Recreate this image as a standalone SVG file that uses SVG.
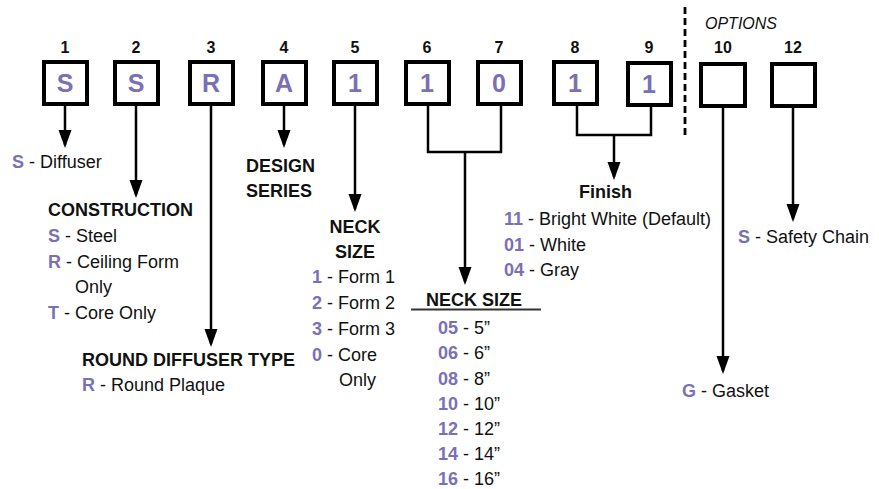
<svg xmlns="http://www.w3.org/2000/svg" width="879" height="489" viewBox="0 0 879 489">
<defs>
<marker id="ah" markerUnits="userSpaceOnUse" markerWidth="18" markerHeight="14" viewBox="0 0 18 14" refX="15" refY="7" orient="auto">
<path d="M0,0.5 L18,7 L0,13.5 z" fill="#000"/>
</marker>
<style>
text{font-family:"Liberation Sans",Arial,Helvetica,sans-serif;font-size:18px;fill:#111}
.box{fill:#fff;stroke:#000;stroke-width:4}
.num{font-weight:bold;font-size:16px;text-anchor:middle}
.code{font-weight:bold;font-size:25px;fill:#7a70b6;text-anchor:middle}
.p{font-weight:bold;fill:#7a70b6}
.h{font-weight:bold}
.c{text-anchor:middle}
.ln{fill:none;stroke:#000;stroke-width:2.5}
.arr{marker-end:url(#ah)}
</style>
</defs>

<g id="connectors">
<line class="ln arr" x1="65" y1="106" x2="65" y2="145"/>
<line class="ln arr" x1="136" y1="106" x2="136" y2="195"/>
<line class="ln arr" x1="211" y1="106" x2="211" y2="344"/>
<line class="ln arr" x1="284" y1="106" x2="284" y2="145"/>
<line class="ln arr" x1="355" y1="106" x2="355" y2="209"/>
<polyline class="ln" points="428,106 428,152 501,152 501,106"/>
<line class="ln arr" x1="465" y1="152" x2="465" y2="282"/>
<polyline class="ln" points="577,106 577,135 651,135 651,106"/>
<line class="ln arr" x1="614" y1="135" x2="614" y2="177"/>
<line class="ln arr" x1="723" y1="107" x2="723" y2="371"/>
<line class="ln arr" x1="793" y1="107" x2="793" y2="219"/>
<line x1="685" y1="7" x2="685" y2="135" stroke="#000" stroke-width="2.8" stroke-dasharray="7 4"/>
<line x1="411" y1="309.5" x2="541" y2="309.5" stroke="#333" stroke-width="1.8"/>
</g>

<text x="705" y="29" style="font-style:italic;font-size:16px">OPTIONS</text>

<g id="box1"><text class="num" x="65" y="53">1</text><rect class="box" x="44" y="62" width="43" height="42"/><text class="code" x="65" y="92">S</text></g>
<g id="box2"><text class="num" x="136" y="53">2</text><rect class="box" x="115" y="62" width="43" height="42"/><text class="code" x="136" y="92">S</text></g>
<g id="box3"><text class="num" x="211" y="53">3</text><rect class="box" x="190" y="62" width="43" height="42"/><text class="code" x="211" y="92">R</text></g>
<g id="box4"><text class="num" x="284" y="53">4</text><rect class="box" x="263" y="62" width="43" height="42"/><text class="code" x="284" y="92">A</text></g>
<g id="box5"><text class="num" x="355" y="53">5</text><rect class="box" x="334" y="62" width="43" height="42"/><text class="code" x="355" y="92">1</text></g>
<g id="box6"><text class="num" x="427" y="53">6</text><rect class="box" x="406" y="62" width="43" height="42"/><text class="code" x="427" y="92">1</text></g>
<g id="box7"><text class="num" x="499" y="53">7</text><rect class="box" x="478" y="62" width="43" height="42"/><text class="code" x="499" y="92">0</text></g>
<g id="box8"><text class="num" x="575" y="53">8</text><rect class="box" x="554" y="62" width="43" height="42"/><text class="code" x="575" y="92">1</text></g>
<g id="box9"><text class="num" x="649" y="53">9</text><rect class="box" x="628" y="63" width="43" height="42"/><text class="code" x="649" y="93">1</text></g>
<g id="box10"><text class="num" x="723" y="53">10</text><rect class="box" x="701" y="64" width="44" height="42"/></g>
<g id="box12"><text class="num" x="793" y="53">12</text><rect class="box" x="772" y="64" width="43" height="42"/></g>

<g id="diffuser"><text x="12" y="168"><tspan class="p">S</tspan> - Diffuser</text></g>

<g id="construction">
<text class="h" x="48" y="216">CONSTRUCTION</text>
<text x="48" y="242"><tspan class="p">S</tspan> - Steel</text>
<text x="48" y="267.5"><tspan class="p">R</tspan> - Ceiling Form</text>
<text x="75" y="293">Only</text>
<text x="48" y="318.5"><tspan class="p">T</tspan> - Core Only</text>
</g>

<g id="roundtype">
<text class="h" x="82" y="366">ROUND DIFFUSER TYPE</text>
<text x="82" y="391"><tspan class="p">R</tspan> - Round Plaque</text>
</g>

<g id="design">
<text class="h" x="246" y="172">DESIGN</text>
<text class="h" x="246" y="197">SERIES</text>
</g>

<g id="necksize5">
<text class="h c" x="355" y="233">NECK</text>
<text class="h c" x="355" y="258">SIZE</text>
<text x="312" y="283"><tspan class="p">1</tspan> - Form 1</text>
<text x="312" y="309"><tspan class="p">2</tspan> - Form 2</text>
<text x="312" y="335"><tspan class="p">3</tspan> - Form 3</text>
<text x="312" y="360.5"><tspan class="p">0</tspan> - Core</text>
<text x="339" y="386">Only</text>
</g>

<g id="necksize67">
<text class="h" x="426" y="306">NECK SIZE</text>
<text x="438" y="334"><tspan class="p">05</tspan> - 5”</text>
<text x="438" y="359"><tspan class="p">06</tspan> - 6”</text>
<text x="438" y="384.5"><tspan class="p">08</tspan> - 8”</text>
<text x="438" y="410"><tspan class="p">10</tspan> - 10”</text>
<text x="438" y="435"><tspan class="p">12</tspan> - 12”</text>
<text x="438" y="460"><tspan class="p">14</tspan> - 14”</text>
<text x="438" y="484.5"><tspan class="p">16</tspan> - 16”</text>
</g>

<g id="finish">
<text class="h" x="579" y="198">Finish</text>
<text x="504" y="225"><tspan class="p">11</tspan> - Bright White (Default)</text>
<text x="504" y="250.5"><tspan class="p">01</tspan> - White</text>
<text x="504" y="276"><tspan class="p">04</tspan> - Gray</text>
</g>

<g id="gasket"><text x="682" y="397"><tspan class="p">G</tspan> - Gasket</text></g>
<g id="safety"><text x="738" y="243"><tspan class="p">S</tspan> - Safety Chain</text></g>
</svg>
